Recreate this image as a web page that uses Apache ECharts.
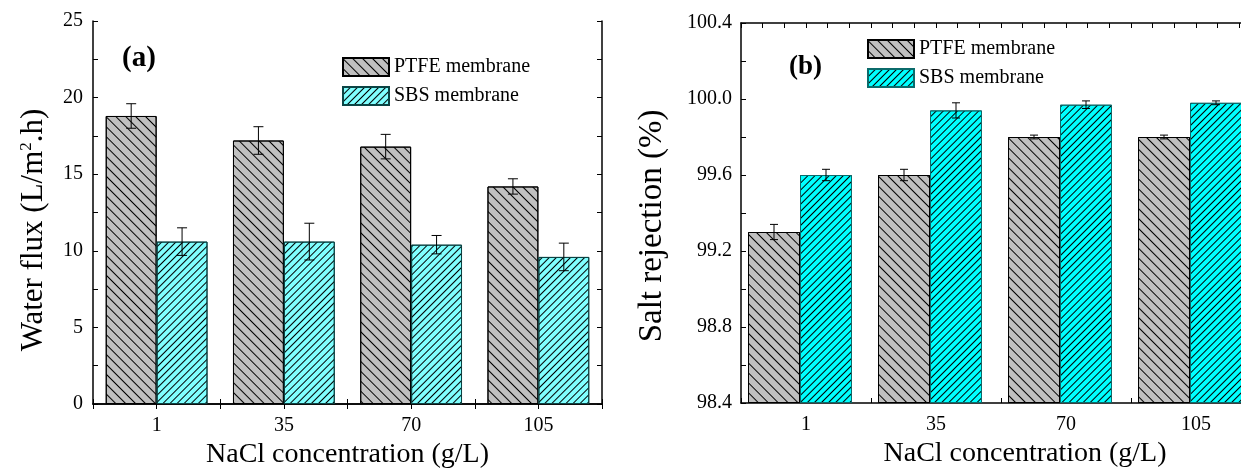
<!DOCTYPE html>
<html>
<head>
<meta charset="utf-8">
<script src="https://cdn.jsdelivr.net/npm/echarts@6/dist/echarts.min.js"></script>
<style>
  html, body { margin: 0; padding: 0; background: #fff; }
  #chart { width: 1241px; height: 468px; }
</style>
</head>
<body>
<div id="chart"></div>
<script>
  var concentrations = ['1', '35', '70', '105'];

  // (a) water flux, L/m2.h
  var fluxPtfe = [18.8, 17.2, 16.8, 14.2];
  var fluxPtfeErr = [0.8, 0.9, 0.8, 0.5];
  var fluxSbs = [10.6, 10.6, 10.4, 9.6];
  var fluxSbsErr = [0.9, 1.2, 0.6, 0.9];
  var fluxTicks = [0, 5, 10, 15, 20, 25];

  // (b) salt rejection, %
  var rejPtfe = [99.30, 99.60, 99.80, 99.80];
  var rejPtfeErr = [0.04, 0.03, 0.01, 0.01];
  var rejSbs = [99.60, 99.94, 99.97, 99.98];
  var rejSbsErr = [0.03, 0.04, 0.02, 0.01];
  var rejTicks = [98.4, 98.8, 99.2, 99.6, 100.0, 100.4];

  var font = 'Liberation Serif';

  const hatch = (rotation, gap) => ({
    symbol: 'rect',
    symbolSize: 1,
    dashArrayX: [1, 0],
    dashArrayY: [1, gap],
    rotation: rotation,
    color: '#000'
  });

  // error bars drawn on top of the bars; offset = bar centre from category centre
  const errorSeries = (xIdx, yIdx, values, errs, offsetFn, cap) => ({
    type: 'custom',
    xAxisIndex: xIdx,
    yAxisIndex: yIdx,
    z: 10,
    silent: true,
    data: values.map((v, i) => [i, v, errs[i]]),
    renderItem: function (params, api) {
      let i = api.value(0), v = api.value(1), e = api.value(2);
      let catW = api.size([1, 0])[0];
      let x = api.coord([i, v])[0] + offsetFn(catW);
      let yTop = api.coord([i, v + e])[1];
      let yBot = api.coord([i, v - e])[1];
      let st = { stroke: '#000', lineWidth: 1 };
      return {
        type: 'group',
        children: [
          { type: 'line', shape: { x1: x, y1: yTop, x2: x, y2: yBot }, style: st },
          { type: 'line', shape: { x1: x - cap, y1: yTop, x2: x + cap, y2: yTop }, style: st },
          { type: 'line', shape: { x1: x - cap, y1: yBot, x2: x + cap, y2: yBot }, style: st }
        ]
      };
    }
  });

  const frameLine = { show: true, lineStyle: { color: '#000', width: 1.5 } };
  const inTick = { show: true, inside: true, length: 5, lineStyle: { color: '#000', width: 1 } };
  const tickLabel = { color: '#000', fontFamily: font, fontSize: 20 };

  let myChart = echarts.init(document.getElementById('chart'));
  let option;

  // right panel bars sit a little left of the category centre (spacer series after them)
  var rejBarW = 52;
  var rejSpacerW = 12;
  var rejGroupW = rejBarW * 2 + rejSpacerW;

  option = {
    animation: false,
    grid: [
      { left: 93, top: 21, width: 509, height: 383, outerBoundsMode: 'none' },
      { left: 741, top: 23, width: 520, height: 380, outerBoundsMode: 'none' }
    ],
    legend: [
      {
        orient: 'vertical', left: 342, top: 57, padding: 0, icon: 'rect',
        itemWidth: 46, itemHeight: 18, itemGap: 9,
        textStyle: { fontFamily: font, fontSize: 20, color: '#000' },
        data: ['PTFE membrane', 'SBS membrane']
      },
      {
        orient: 'vertical', left: 867, top: 39, padding: 0, icon: 'rect',
        itemWidth: 46, itemHeight: 18, itemGap: 9,
        textStyle: { fontFamily: font, fontSize: 20, color: '#000' },
        data: [
          { name: 'PTFE membrane' },
          { name: 'SBS membrane', itemStyle: { color: '#00ffff', borderColor: '#0b6b6b' } }
        ]
      }
    ],
    graphic: [
      { type: 'text', left: 122, top: 44, style: { text: '(a)', font: 'bold 29px "Liberation Serif"', fill: '#000' } },
      { type: 'text', left: 789, top: 54, style: { text: '(b)', font: 'bold 27px "Liberation Serif"', fill: '#000' } }
    ],
    xAxis: [
      {
        type: 'category', gridIndex: 0, data: concentrations,
        axisLine: frameLine, axisTick: inTick,
        axisLabel: Object.assign({ margin: 12 }, tickLabel),
        name: 'NaCl concentration (g/L)', nameLocation: 'middle', nameGap: 36,
        nameTextStyle: { fontFamily: font, fontSize: 28, color: '#000' }
      },
      {
        type: 'value', gridIndex: 0, position: 'top', min: 0, max: 4, interval: 0.5,
        axisLine: frameLine, axisTick: inTick, axisLabel: { show: false }, splitLine: { show: false }
      },
      {
        type: 'category', gridIndex: 1, data: concentrations,
        axisLine: frameLine, axisTick: inTick,
        axisLabel: Object.assign({ margin: 12 }, tickLabel),
        name: 'NaCl concentration (g/L)', nameLocation: 'middle', nameGap: 35,
        nameTextStyle: { fontFamily: font, fontSize: 28, color: '#000', padding: [0, 0, 0, 48] }
      },
      {
        type: 'value', gridIndex: 1, position: 'top', min: 0, max: 4, interval: 1,
        axisLine: frameLine, axisTick: inTick,
        minorTick: { show: true, splitNumber: 6, length: 5, lineStyle: { color: '#000' } },
        axisLabel: { show: false }, splitLine: { show: false }
      }
    ],
    yAxis: [
      {
        type: 'value', gridIndex: 0, min: fluxTicks[0], max: fluxTicks[fluxTicks.length - 1], interval: 5,
        axisLine: frameLine, axisTick: inTick,
        minorTick: { show: true, splitNumber: 2, length: 5, lineStyle: { color: '#000' } },
        axisLabel: Object.assign({ margin: 10 }, tickLabel),
        splitLine: { show: false },
        name: 'Water flux (L/m{sup|2}.h)', nameLocation: 'middle', nameGap: 44,
        nameTextStyle: {
          fontFamily: font, fontSize: 31, color: '#000', padding: [0, 35, 0, 0],
          rich: { sup: { fontFamily: font, fontSize: 17, verticalAlign: 'top', color: '#000' } }
        }
      },
      {
        type: 'value', gridIndex: 0, position: 'right', min: 0, max: 25, interval: 2.5,
        axisLine: frameLine, axisTick: inTick, axisLabel: { show: false }, splitLine: { show: false }
      },
      {
        type: 'value', gridIndex: 1, min: rejTicks[0], max: rejTicks[rejTicks.length - 1], interval: 0.4,
        startValue: rejTicks[0],
        axisLine: frameLine, axisTick: inTick,
        minorTick: { show: true, splitNumber: 2, length: 5, lineStyle: { color: '#000' } },
        axisLabel: Object.assign({ margin: 9, formatter: v => v.toFixed(1) }, tickLabel),
        splitLine: { show: false },
        name: 'Salt rejection (%)', nameLocation: 'middle', nameGap: 72,
        nameTextStyle: { fontFamily: font, fontSize: 33, color: '#000', padding: [0, 26, 0, 0] }
      },
      {
        type: 'value', gridIndex: 1, position: 'right', min: 98.4, max: 100.4, interval: 0.2,
        axisLine: frameLine, axisTick: inTick, axisLabel: { show: false }, splitLine: { show: false }
      }
    ],
    series: [
      {
        name: 'PTFE membrane', type: 'bar', xAxisIndex: 0, yAxisIndex: 0,
        barWidth: '40%', barGap: '0%',
        itemStyle: { color: '#c0c0c0', borderColor: '#000', borderWidth: 1, decal: hatch(Math.PI / 4, 6) },
        data: fluxPtfe
      },
      {
        name: 'SBS membrane', type: 'bar', xAxisIndex: 0, yAxisIndex: 0,
        barWidth: '40%', barGap: '0%',
        itemStyle: { color: '#80ffff', borderColor: '#0b4444', borderWidth: 1, decal: hatch(-Math.PI / 4, 4) },
        data: fluxSbs
      },
      errorSeries(0, 0, fluxPtfe, fluxPtfeErr, w => -0.2 * w, 5),
      errorSeries(0, 0, fluxSbs, fluxSbsErr, w => 0.2 * w, 5),
      {
        name: 'PTFE membrane', type: 'bar', xAxisIndex: 2, yAxisIndex: 2,
        barWidth: rejBarW, barGap: '0%',
        itemStyle: { color: '#c0c0c0', borderColor: '#000', borderWidth: 1, decal: hatch(Math.PI / 4, 6) },
        data: rejPtfe
      },
      {
        name: 'SBS membrane', type: 'bar', xAxisIndex: 2, yAxisIndex: 2,
        barWidth: rejBarW, barGap: '0%',
        itemStyle: { color: '#00ffff', borderColor: '#0b6b6b', borderWidth: 1, decal: hatch(-Math.PI / 4, 4) },
        data: rejSbs
      },
      {
        name: 'spacer', type: 'bar', xAxisIndex: 2, yAxisIndex: 2,
        barWidth: rejSpacerW, barGap: '0%', itemStyle: { opacity: 0 }, silent: true,
        data: []
      },
      errorSeries(2, 2, rejPtfe, rejPtfeErr, w => -rejGroupW / 2 + rejBarW / 2, 4),
      errorSeries(2, 2, rejSbs, rejSbsErr, w => -rejGroupW / 2 + rejBarW * 1.5, 4)
    ]
  };

  option && myChart.setOption(option);
</script>
</body>
</html>
